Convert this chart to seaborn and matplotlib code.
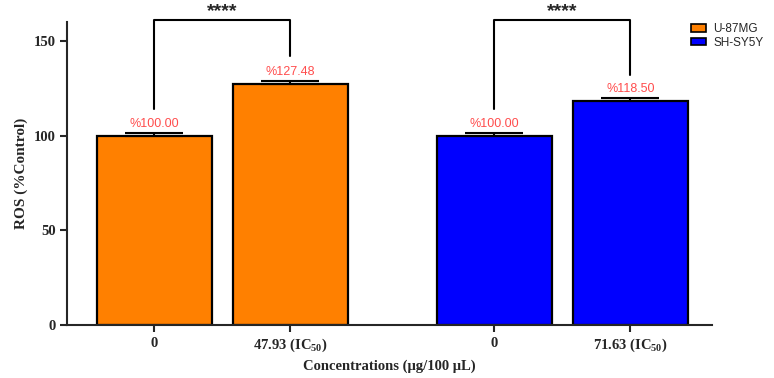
import numpy as np
import pandas as pd
import seaborn as sns
import matplotlib.pyplot as plt

# data
cell_lines = ["U-87MG", "U-87MG", "SH-SY5Y", "SH-SY5Y"]
positions = [0, 1, 2.5, 3.5]
tick_labels = ["0", "47.93 (IC$_{50}$)", "0", "71.63 (IC$_{50}$)"]
ros_values = [100.00, 127.48, 100.00, 118.50]
ros_err = [1.6, 1.4, 1.3, 1.3]
value_labels = ["%100.00", "%127.48", "%100.00", "%118.50"]
palette = {"U-87MG": "#FF8000", "SH-SY5Y": "#0000FF"}

sns.set_style("ticks")
plt.rcParams["mathtext.fontset"] = "custom"
plt.rcParams["mathtext.rm"] = "Liberation Serif:bold"
plt.rcParams["mathtext.bf"] = "Liberation Serif:bold"

df = pd.DataFrame({"pos": positions, "ros": ros_values, "line": cell_lines})

fig = plt.figure(figsize=(7.74, 3.78), dpi=100)
ax = fig.add_axes([0.087, 0.14, 0.833, 0.802])

sns.barplot(data=df, x="pos", y="ros", hue="line", palette=palette,
	native_scale=True, dodge=False, width=0.85, edgecolor="black",
	linewidth=1.6, errorbar=None, saturation=1, ax=ax, legend=True)

# only the upper half of the SEM bar is visible in the original
ax.errorbar(positions, ros_values, yerr=[np.zeros(len(ros_err)), ros_err],
	fmt="none", ecolor="black", elinewidth=1.5, capsize=21, capthick=1.5)

for p, v, e, t in zip(positions, ros_values, ros_err, value_labels):
	ax.text(p, v + e + 1.5, t, ha="center", va="bottom", color="#FF4D4D",
		fontsize=9, family="Liberation Sans")

# significance brackets
def bracket(x1, x2, y1, y2, top):
	ax.plot([x1, x1, x2, x2], [y1, top, top, y2], color="black", lw=1.5,
		clip_on=False)
	ax.text((x1 + x2) / 2, top + 4.5, "****", ha="center", va="center",
		fontsize=14, fontweight="bold", family="Liberation Sans", clip_on=False)

bracket(positions[0], positions[1], 114, 142, 161)
bracket(positions[2], positions[3], 114, 132, 161)

ax.set_xlim(-0.64, 4.1)
ax.set_ylim(0, 160)
ax.set_yticks([0, 50, 100, 150])
ax.set_xticks(positions)
ax.set_xticklabels(tick_labels)
for lab in ax.get_xticklabels() + ax.get_yticklabels():
	lab.set_family("Liberation Serif")
	lab.set_fontweight("bold")
	lab.set_fontsize(10.5)
ax.set_xlabel("Concentrations (μg/100 μL)", family="Liberation Serif",
	fontweight="bold", fontsize=10.5)
ax.set_ylabel("ROS (%Control)", family="Liberation Serif", fontweight="bold",
	fontsize=11)
ax.tick_params(width=1.5, length=5)
for s in ["left", "bottom"]:
	ax.spines[s].set_linewidth(1.5)
sns.despine(ax=ax)

leg = ax.legend(loc="upper left", bbox_to_anchor=(0.885, 0.955),
	bbox_transform=fig.transFigure, frameon=False,
	prop={"family": "Liberation Sans", "size": 8.5}, handlelength=1.3,
	handleheight=0.65, labelspacing=0.15, handletextpad=0.6, borderpad=0)
for h in leg.legend_handles:
	h.set_edgecolor("black")
	h.set_linewidth(1.2)

fig.savefig("out.png", dpi=100)
